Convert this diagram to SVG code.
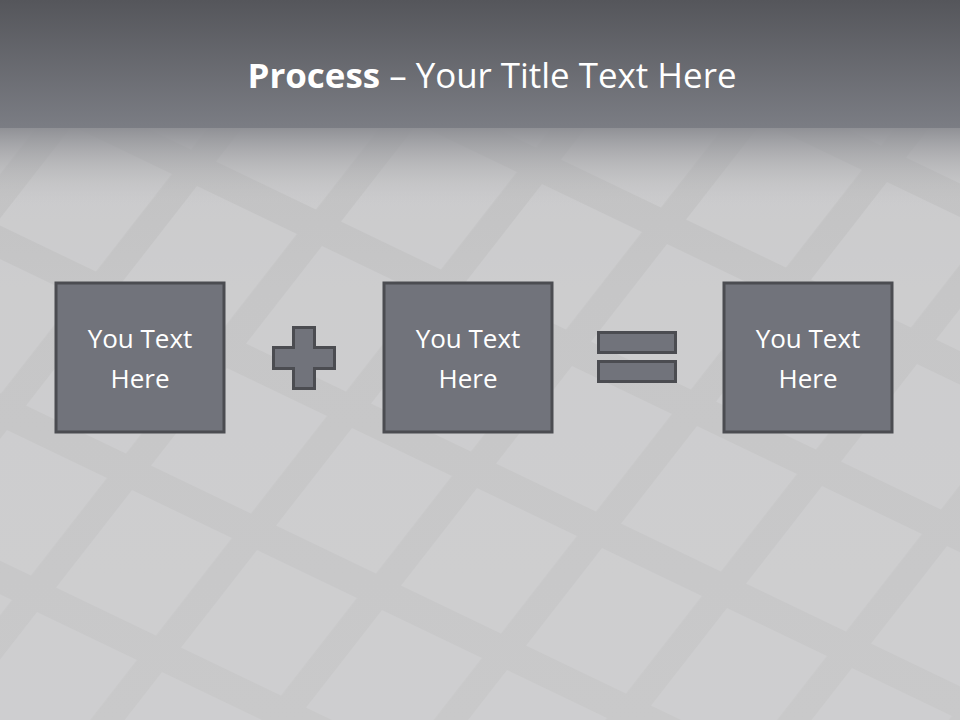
<svg xmlns="http://www.w3.org/2000/svg" width="960" height="720" viewBox="0 0 960 720">
<defs>
<linearGradient id="hdr" x1="0" y1="0" x2="0" y2="1">
<stop offset="0" stop-color="#55565b"/>
<stop offset="1" stop-color="#7b7d84"/>
</linearGradient>
<linearGradient id="fade" x1="0" y1="0" x2="0" y2="1">
<stop offset="0" stop-color="#8d8e93" stop-opacity="1"/>
<stop offset="1" stop-color="#c4c4c5" stop-opacity="0"/>
</linearGradient>
<linearGradient id="bg" x1="0" y1="0" x2="0" y2="1">
<stop offset="0" stop-color="#bdbdbe"/>
<stop offset="0.4" stop-color="#c6c6c7"/>
<stop offset="1" stop-color="#c9c9ca"/>
</linearGradient>
<pattern id="tiles" patternUnits="userSpaceOnUse" width="100" height="100" patternTransform="matrix(1.25,0.6,-0.95,1.22,257,550)">
<rect x="0" y="0" width="80" height="80" fill="#d3d3d5"/>
</pattern>
<style>
.box{fill:#71737b;stroke:#4b4c51;stroke-width:3}
.sym{fill:#71737b;stroke:#4b4c51;stroke-width:3}
.lbl{font-family:"Open Sans","Liberation Sans",sans-serif;font-size:26px;fill:#ffffff;text-anchor:middle}
.ttl{font-family:"Open Sans","Liberation Sans",sans-serif;font-size:34px;fill:#ffffff}
</style>
</defs>
<rect width="960" height="720" fill="url(#bg)"/>
<rect width="960" height="720" fill="url(#tiles)" opacity="0.5"/>
<rect x="0" y="126" width="960" height="80" fill="url(#fade)"/>
<rect x="0" y="0" width="960" height="128" fill="url(#hdr)"/>
<text class="ttl" x="492" y="88" text-anchor="middle" textLength="489" lengthAdjust="spacingAndGlyphs"><tspan font-weight="bold">Process</tspan> – Your Title Text Here</text>
<g id="node1">
<rect class="box" x="56" y="283" width="168" height="149"/>
<text class="lbl" x="140" y="348">You Text</text>
<text class="lbl" x="140" y="388">Here</text>
</g>
<g id="plus">
<path class="sym" d="M293.5 327.5 H314.5 V347.5 H334.5 V368.5 H314.5 V388.5 H293.5 V368.5 H273.5 V347.5 H293.5 Z"/>
</g>
<g id="node2">
<rect class="box" x="384" y="283" width="168" height="149"/>
<text class="lbl" x="468" y="348">You Text</text>
<text class="lbl" x="468" y="388">Here</text>
</g>
<g id="equals">
<rect class="sym" x="598.5" y="332.5" width="77" height="20"/>
<rect class="sym" x="598.5" y="361.5" width="77" height="20"/>
</g>
<g id="node3">
<rect class="box" x="724" y="283" width="168" height="149"/>
<text class="lbl" x="808" y="348">You Text</text>
<text class="lbl" x="808" y="388">Here</text>
</g>
<g id="connectors"></g>
</svg>
